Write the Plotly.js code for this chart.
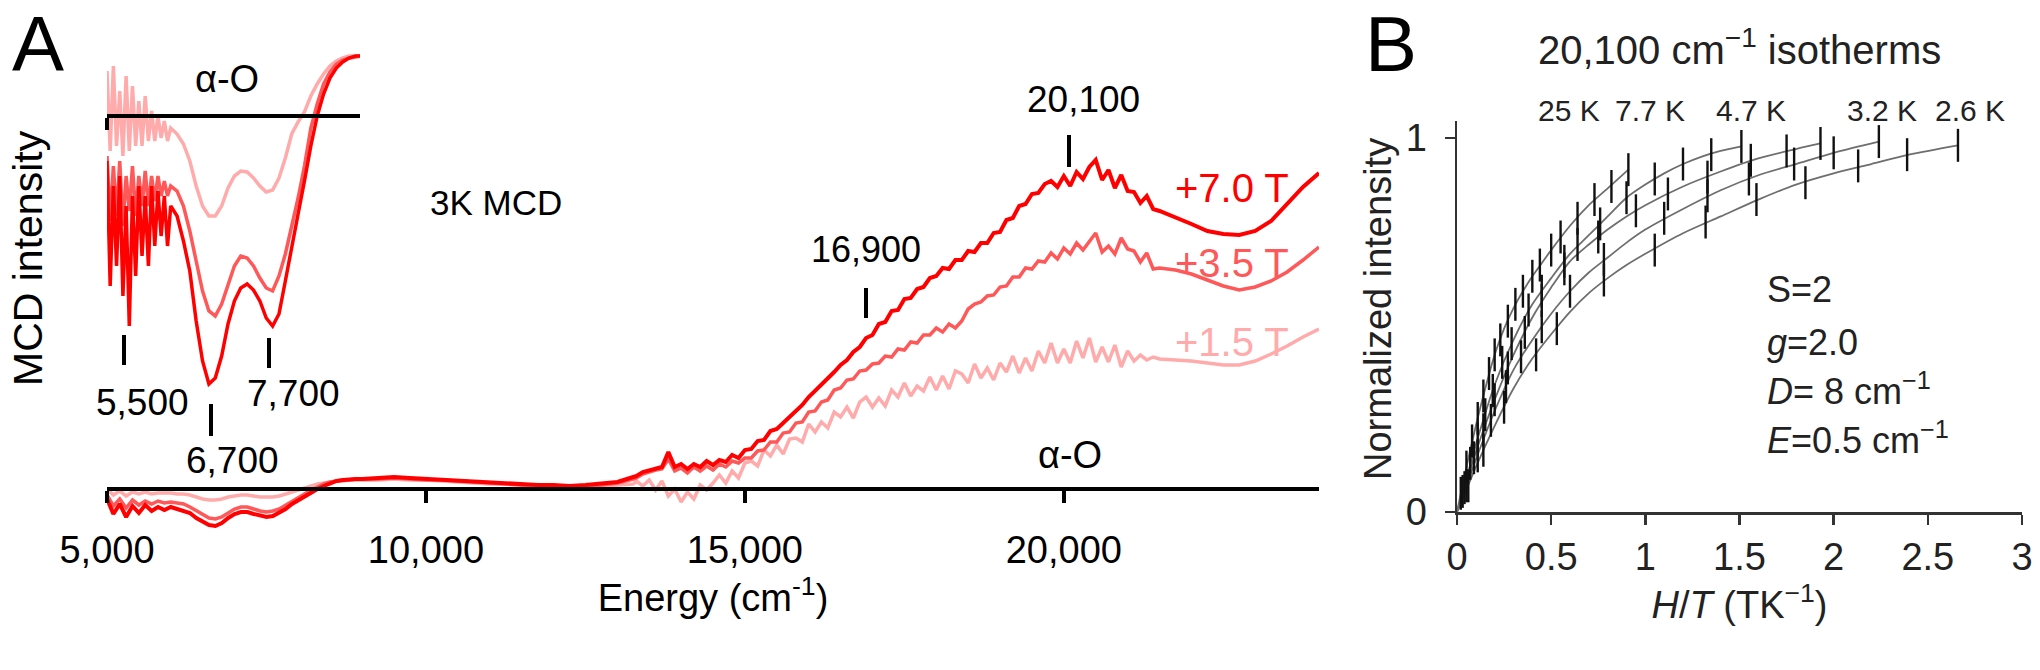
<!DOCTYPE html>
<html>
<head>
<meta charset="utf-8">
<script src="https://cdn.plot.ly/plotly-3.0.1.min.js"></script>
<style>html,body{margin:0;padding:0;background:#fff;}#chart{width:2040px;height:670px;}</style>
</head>
<body>
<div id="chart"></div>
<script>
// ---------- Panel A: MCD spectra (arbitrary units) ----------
const energy = [
5000,5100,5200,5300,5400,5500,5600,5700,5800,5900,6000,6100,6200,6300,6400,6500,6600,6700,6800,6900,
7000,7100,7200,7300,7400,7500,7600,7700,7800,7900,8000,8100,8200,8300,8400,8500,8600,8700,8800,8900,9000,
9250,9500,9750,10000,10250,10500,10750,11000,11250,11500,11750,12000,12250,12500,12750,13000,13250,
13300,13400,13500,13600,13700,13800,13900,14000,14100,14200,14300,14400,14500,14600,14700,14800,14900,
15000,15100,15200,15300,15400,15500,15600,15700,15800,15900,16000,16100,16200,16300,16400,16500,16600,16700,16800,16900,
17000,17100,17200,17300,17400,17500,17600,17700,17800,17900,18000,18100,18200,18300,18400,18500,18600,18700,18800,18900,
19000,19100,19200,19300,19400,19500,19600,19700,19800,19900,20000,20100,20200,20300,20400,20500,20600,20700,20800,20900,
21000,21100,21200,21300,21400,21500,21750,22000,22250,22500,22750,23000,23250,23500,23750,24000];

const mcd7T = [
-0.10,-0.25,-0.15,-0.28,-0.17,-0.24,-0.16,-0.22,-0.18,-0.21,-0.18,-0.20,-0.21,-0.24,-0.29,-0.33,-0.36,-0.37,-0.34,-0.29,
-0.25,-0.23,-0.23,-0.25,-0.27,-0.28,-0.27,-0.24,-0.20,-0.15,-0.11,-0.07,-0.03,0.00,0.03,0.06,0.08,0.09,0.10,0.10,0.10,
0.11,0.12,0.11,0.10,0.10,0.09,0.08,0.07,0.06,0.05,0.04,0.04,0.03,0.04,0.05,0.07,0.12,
0.13,0.17,0.19,0.21,0.22,0.37,0.22,0.25,0.20,0.25,0.22,0.28,0.24,0.29,0.27,0.34,0.31,
0.39,0.40,0.48,0.49,0.58,0.60,0.66,0.72,0.79,0.84,0.92,0.98,1.04,1.10,1.17,1.24,1.29,1.37,1.42,1.51,
1.54,1.65,1.67,1.78,1.79,1.90,1.91,2.00,2.02,2.11,2.13,2.21,2.20,2.29,2.29,2.38,2.37,2.46,2.46,2.56,
2.57,2.69,2.71,2.83,2.85,2.95,2.96,3.05,3.08,3.02,3.13,3.03,3.17,3.10,3.22,3.29,3.09,3.19,3.01,3.14,
2.98,2.97,2.86,2.93,2.80,2.78,2.72,2.65,2.58,2.55,2.54,2.58,2.68,2.85,3.02,3.16];

const mcd35T = [
-0.06,-0.17,-0.10,-0.19,-0.11,-0.16,-0.12,-0.15,-0.12,-0.14,-0.13,-0.14,-0.15,-0.18,-0.22,-0.26,-0.29,-0.30,-0.28,-0.24,
-0.20,-0.18,-0.18,-0.20,-0.22,-0.23,-0.22,-0.20,-0.16,-0.12,-0.08,-0.05,-0.01,0.02,0.05,0.07,0.08,0.09,0.09,0.10,0.10,
0.10,0.11,0.10,0.09,0.09,0.08,0.07,0.06,0.05,0.04,0.04,0.03,0.03,0.03,0.04,0.06,0.10,
0.11,0.15,0.17,0.19,0.20,0.30,0.18,0.21,0.16,0.22,0.18,0.23,0.19,0.25,0.22,0.28,0.26,
0.31,0.31,0.38,0.39,0.47,0.47,0.56,0.57,0.66,0.67,0.77,0.78,0.87,0.89,0.99,1.01,1.09,1.10,1.18,1.19,
1.25,1.26,1.33,1.32,1.40,1.39,1.47,1.46,1.54,1.54,1.61,1.57,1.65,1.61,1.68,1.80,1.85,1.87,1.93,1.94,
2.02,2.03,2.12,2.12,2.21,2.20,2.28,2.27,2.36,2.30,2.41,2.35,2.46,2.39,2.48,2.56,2.37,2.43,2.35,2.51,
2.40,2.38,2.27,2.36,2.20,2.21,2.19,2.15,2.09,2.03,1.99,2.02,2.08,2.17,2.29,2.42];

const mcd15T = [
0.00,-0.06,-0.02,-0.07,-0.03,-0.05,-0.03,-0.05,-0.04,-0.04,-0.04,-0.05,-0.05,-0.06,-0.08,-0.10,-0.11,-0.11,-0.10,-0.08,
-0.07,-0.06,-0.06,-0.07,-0.08,-0.08,-0.08,-0.07,-0.05,-0.03,-0.01,0.01,0.03,0.05,0.06,0.07,0.08,0.08,0.09,0.09,0.09,
0.09,0.10,0.09,0.09,0.08,0.07,0.06,0.05,0.05,0.04,0.03,0.03,0.02,0.02,0.03,0.04,0.05,
0.08,0.03,0.09,-0.01,0.08,-0.07,0.00,-0.13,-0.03,-0.10,0.04,-0.01,0.06,0.14,0.06,0.18,0.11,
0.26,0.28,0.23,0.39,0.33,0.44,0.35,0.50,0.51,0.47,0.65,0.57,0.67,0.61,0.77,0.72,0.82,0.71,0.87,0.92,
0.82,0.91,0.83,0.99,0.92,1.06,0.93,1.03,0.98,1.12,0.99,1.13,1.00,1.18,1.15,1.06,1.25,1.11,1.21,1.09,
1.26,1.17,1.33,1.16,1.31,1.18,1.38,1.26,1.46,1.26,1.40,1.26,1.48,1.31,1.51,1.27,1.42,1.27,1.44,1.22,
1.38,1.28,1.34,1.29,1.32,1.30,1.29,1.28,1.26,1.24,1.24,1.28,1.35,1.43,1.52,1.60];

// ---------- Panel A inset: magnified low-energy region ----------
const insetEnergy = [
5000,5050,5100,5150,5200,5250,5300,5350,5400,5450,5500,5550,5600,5650,5700,5750,5800,5850,5900,5950,
6000,6100,6200,6300,6400,6500,6600,6700,6800,6900,7000,7100,7200,7300,7400,7500,7600,7700,7800,7900,
8000,8100,8200,8300,8400,8500,8600,8700,8800,8900,9000];
const inset7T = [
-0.45,-1.70,-0.70,-1.50,-0.60,-1.80,-0.90,-2.10,-0.80,-1.60,-0.70,-1.40,-0.80,-1.50,-0.70,-1.30,-0.75,-1.20,-0.80,-1.30,
-0.90,-1.00,-1.25,-1.55,-2.05,-2.45,-2.68,-2.62,-2.40,-2.08,-1.85,-1.72,-1.68,-1.74,-1.85,-2.02,-2.10,-1.98,-1.65,-1.30,
-0.98,-0.65,-0.30,0.00,0.22,0.38,0.48,0.54,0.58,0.60,0.60];
const inset35T = [
-0.40,-1.05,-0.50,-1.00,-0.45,-1.10,-0.60,-0.95,-0.50,-1.00,-0.60,-0.90,-0.55,-0.90,-0.60,-0.85,-0.60,-0.80,-0.65,-0.80,
-0.70,-0.75,-0.90,-1.15,-1.45,-1.75,-1.95,-2.00,-1.88,-1.68,-1.50,-1.40,-1.42,-1.50,-1.62,-1.72,-1.75,-1.60,-1.38,-1.10,
-0.82,-0.50,-0.12,0.12,0.32,0.44,0.52,0.56,0.58,0.59,0.60];
const inset15T = [
0.45,-0.35,0.50,-0.30,0.25,-0.40,0.40,-0.35,0.30,-0.30,0.15,-0.30,0.20,-0.25,0.05,-0.25,0.00,-0.22,-0.05,-0.25,
-0.12,-0.18,-0.28,-0.45,-0.70,-0.90,-1.00,-1.00,-0.90,-0.72,-0.60,-0.55,-0.56,-0.62,-0.70,-0.76,-0.74,-0.62,-0.42,-0.18,
-0.06,0.04,0.20,0.32,0.42,0.50,0.55,0.58,0.60,0.60,0.60];

const tickEnergies = [5000, 10000, 15000, 20000];
const tickEnergyLabels = ['5,000', '10,000', '15,000', '20,000'];

// ---------- Panel B: 20,100 cm-1 isotherms ----------
const fitA_x = [0,0.05,0.1,0.15,0.2,0.25,0.3,0.35,0.4,0.45,0.5,0.6,0.7,0.8,0.91];
const fitA_y = [0,0.12,0.23,0.33,0.42,0.49,0.545,0.59,0.63,0.665,0.70,0.765,0.82,0.865,0.915];
const fitB_x = [0,0.05,0.1,0.2,0.3,0.4,0.5,0.6,0.7,0.8,0.9,1.0,1.1,1.2,1.3,1.4,1.51];
const fitB_y = [0,0.09,0.18,0.34,0.46,0.555,0.625,0.69,0.74,0.79,0.84,0.875,0.905,0.93,0.95,0.965,0.977];
const fitC_x = [0,0.05,0.1,0.2,0.3,0.4,0.5,0.6,0.7,0.8,0.9,1.0,1.2,1.4,1.6,1.8,1.93];
const fitC_y = [0,0.08,0.16,0.30,0.42,0.52,0.60,0.67,0.715,0.755,0.79,0.82,0.87,0.91,0.945,0.97,0.985];
const fitD_x = [0,0.05,0.1,0.2,0.3,0.4,0.5,0.6,0.7,0.8,0.9,1.0,1.2,1.4,1.6,1.8,2.0,2.24];
const fitD_y = [0,0.07,0.14,0.27,0.38,0.46,0.53,0.59,0.64,0.68,0.72,0.755,0.81,0.86,0.90,0.93,0.96,0.99];
const fitE_x = [0,0.05,0.1,0.2,0.3,0.4,0.5,0.6,0.7,0.8,0.9,1.0,1.2,1.4,1.6,1.8,2.0,2.2,2.4,2.66];
const fitE_y = [0,0.06,0.12,0.23,0.33,0.41,0.475,0.535,0.585,0.625,0.66,0.69,0.745,0.79,0.835,0.875,0.905,0.93,0.955,0.98];

const dataA_x = [0.02,0.05,0.08,0.11,0.14,0.17,0.20,0.23,0.27,0.31,0.35,0.40,0.44,0.50,0.55,0.64,0.73,0.82,0.91];
const dataA_y = [0.05,0.12,0.19,0.25,0.31,0.37,0.42,0.46,0.51,0.555,0.59,0.63,0.66,0.70,0.735,0.785,0.835,0.87,0.915];
const dataB_x = [0.03,0.07,0.11,0.15,0.19,0.24,0.29,0.38,0.45,0.57,0.64,0.76,0.90,1.05,1.20,1.35,1.51];
const dataB_y = [0.055,0.13,0.195,0.26,0.325,0.40,0.45,0.54,0.59,0.67,0.715,0.77,0.84,0.89,0.93,0.955,0.977];
const dataC_x = [0.04,0.09,0.14,0.20,0.27,0.36,0.45,0.57,0.75,0.95,1.12,1.33,1.56,1.75,1.93];
const dataC_y = [0.065,0.145,0.22,0.30,0.385,0.48,0.565,0.65,0.735,0.805,0.85,0.895,0.94,0.965,0.985];
const dataD_x = [0.05,0.11,0.18,0.26,0.34,0.45,0.60,0.78,1.10,1.33,1.55,1.79,2.00,2.24];
const dataD_y = [0.07,0.15,0.245,0.335,0.415,0.495,0.59,0.675,0.785,0.845,0.89,0.93,0.96,0.99];
const dataE_x = [0.06,0.14,0.25,0.42,0.53,0.78,1.05,1.32,1.59,1.85,2.13,2.39,2.66];
const dataE_y = [0.07,0.165,0.28,0.42,0.49,0.62,0.70,0.775,0.835,0.88,0.925,0.955,0.98];
const errHalf = 0.044;

const isoTicks = [0,0.5,1,1.5,2,2.5,3];
const isoTickLabels = ['0','0.5','1','1.5','2','2.5','3'];
const tempLabels = ['25 K','7.7 K','4.7 K','3.2 K','2.6 K'];

// ---------- helpers: pixel -> paper ----------
const W = 2040, H = 670;
const PX = x => x / W;
const PY = y => 1 - y / H;

const FONT = 'Liberation Sans, Arial, Helvetica, sans-serif';
const C7 = '#ff0000', C35 = '#ff5858', C15 = '#ffabab';

const traces = [];
traces.push({x: energy, y: mcd15T, xaxis:'x', yaxis:'y', mode:'lines', line:{color:C15, width:3.5}, hoverinfo:'skip'});
traces.push({x: energy, y: mcd35T, xaxis:'x', yaxis:'y', mode:'lines', line:{color:C35, width:3.5}, hoverinfo:'skip'});
traces.push({x: energy, y: mcd7T, xaxis:'x', yaxis:'y', mode:'lines', line:{color:C7, width:4}, hoverinfo:'skip'});
traces.push({x: insetEnergy, y: inset15T, xaxis:'x2', yaxis:'y2', mode:'lines', line:{color:C15, width:3.5}, hoverinfo:'skip'});
traces.push({x: insetEnergy, y: inset35T, xaxis:'x2', yaxis:'y2', mode:'lines', line:{color:C35, width:3.5}, hoverinfo:'skip'});
traces.push({x: insetEnergy, y: inset7T, xaxis:'x2', yaxis:'y2', mode:'lines', line:{color:C7, width:3.5}, hoverinfo:'skip'});
[[fitA_x,fitA_y],[fitB_x,fitB_y],[fitC_x,fitC_y],[fitD_x,fitD_y],[fitE_x,fitE_y]].forEach(f => {
  traces.push({x:f[0], y:f[1], xaxis:'x3', yaxis:'y3', mode:'lines', line:{color:'#6e6e6e', width:1.8, shape:'spline', smoothing:0.8}, hoverinfo:'skip'});
});
[[dataA_x,dataA_y],[dataB_x,dataB_y],[dataC_x,dataC_y],[dataD_x,dataD_y],[dataE_x,dataE_y]].forEach(d => {
  traces.push({x:d[0], y:d[1], xaxis:'x3', yaxis:'y3', mode:'markers', marker:{size:1, color:'rgba(0,0,0,0)'},
    error_y:{type:'constant', value:errHalf, thickness:2.4, width:0, color:'#111'}, hoverinfo:'skip', cliponaxis:false});
});

const ann = [];
function T(text, x, y, size, opts) {
  ann.push(Object.assign({text:text, x:PX(x), y:PY(y), xref:'paper', yref:'paper', showarrow:false,
    xanchor:'center', yanchor:'middle', font:{family:FONT, size:size, color:'#000'}}, opts || {}));
}
T('A', 38, 44, 78);
T('B', 1391, 44, 78);
T('α-O', 227, 79, 38);
T('α-O', 1070, 455, 38);
T('3K MCD', 496, 202, 35);
T('5,500', 142, 402, 37);
T('7,700', 293, 393, 37);
T('6,700', 232, 460, 37);
T('16,900', 866, 250, 36);
T('20,100', 1083, 100, 37);
T('+7.0 T', 1232, 188, 40, {font:{family:FONT, size:40, color:C7}});
T('+3.5 T', 1232, 263, 40, {font:{family:FONT, size:40, color:C35}});
T('+1.5 T', 1232, 342, 40, {font:{family:FONT, size:40, color:C15}});
T('MCD intensity', 28, 258, 41, {textangle:-90});
T('20,100 cm<sup>−1</sup> isotherms', 1739, 47, 40, {font:{family:FONT, size:40, color:'#222'}});
const tempX = [1569, 1650, 1751, 1882, 1970];
tempLabels.forEach((t,i) => T(t, tempX[i], 110, 30, {font:{family:FONT, size:30, color:'#222'}}));
T('S=2', 1765, 290, 36, {xanchor:'left', font:{family:FONT, size:36, color:'#222'}});
T('<i>g</i>=2.0', 1765, 342, 36, {xanchor:'left', font:{family:FONT, size:36, color:'#222'}});
T('<i>D</i>= 8 cm<sup>−1</sup>', 1765, 389, 36, {xanchor:'left', font:{family:FONT, size:36, color:'#222'}});
T('<i>E</i>=0.5 cm<sup>−1</sup>', 1765, 438, 36, {xanchor:'left', font:{family:FONT, size:36, color:'#222'}});
T('Normalized intensity', 1378, 309, 38, {textangle:-90, font:{family:FONT, size:38, color:'#222'}});

const shapes = [];
function V(x, y0, y1) {
  shapes.push({type:'line', xref:'paper', yref:'paper', x0:PX(x), x1:PX(x), y0:PY(y0), y1:PY(y1), line:{color:'#000', width:4}});
}
V(124, 335, 365);
V(269, 338, 368);
V(211, 404, 436);
V(866, 288, 318);
V(1069, 135, 167);

const layout = {
  width: W, height: H,
  margin: {l:0, r:0, t:0, b:0, pad:0},
  paper_bgcolor: '#fff', plot_bgcolor: 'rgba(0,0,0,0)',
  showlegend: false,
  font: {family: FONT, color: '#000'},
  xaxis: {domain:[PX(107), PX(1319)], range:[5000, 24000], anchor:'free', position:PY(489),
    showline:true, linecolor:'#000', linewidth:4, ticks:'outside', ticklen:12, tickwidth:4, tickcolor:'#000',
    tickvals: tickEnergies, ticktext: tickEnergyLabels, tickfont:{family:FONT, size:38, color:'#000'},
    ticklabelstandoff: 14, showgrid:false, zeroline:false,
    title:{text:'Energy (cm<sup>-1</sup>)', font:{family:FONT, size:38, color:'#000'}, standoff:14}},
  yaxis: {domain:[PY(540), PY(100)], range:[-0.51, 3.89], anchor:'x', visible:false},
  xaxis2: {domain:[PX(107), PX(360)], range:[5000, 8972], anchor:'free', position:PY(116),
    showline:true, linecolor:'#000', linewidth:4, ticks:'outside', ticklen:12, tickwidth:4, tickcolor:'#000',
    tickvals:[5000], showticklabels:false, showgrid:false, zeroline:false},
  yaxis2: {domain:[PY(400), PY(40)], range:[-2.84, 0.76], anchor:'x2', visible:false},
  xaxis3: {domain:[PX(1457), PX(2022)], range:[0, 3], anchor:'y3',
    showline:true, linecolor:'#333', linewidth:2.5, ticks:'outside', ticklen:10, tickwidth:2.5, tickcolor:'#333',
    tickvals: isoTicks, ticktext: isoTickLabels, tickfont:{family:FONT, size:38, color:'#222'},
    showgrid:false, zeroline:false,
    title:{text:'<i>H</i>/<i>T</i> (TK<sup>−1</sup>)', font:{family:FONT, size:38, color:'#222'}, standoff:14}},
  yaxis3: {domain:[PY(512), PY(121)], range:[0, 1.045], anchor:'x3',
    showline:true, linecolor:'#333', linewidth:2.5, ticks:'outside', ticklen:10, tickwidth:2.5, tickcolor:'#333',
    tickvals:[0,1], ticktext:['0','1'], tickfont:{family:FONT, size:38, color:'#222'},
    ticklabelstandoff: 10, showgrid:false, zeroline:false},
  annotations: ann,
  shapes: shapes
};

Plotly.newPlot('chart', traces, layout, {staticPlot:true, displayModeBar:false});
</script>
</body>
</html>
